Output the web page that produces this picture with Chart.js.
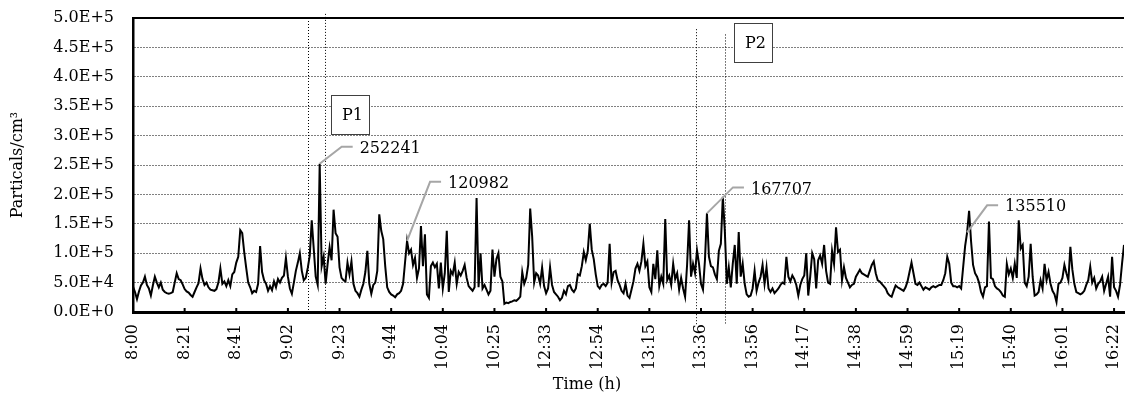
<!DOCTYPE html>
<html>
<head>
<meta charset="utf-8">
<script src="https://cdn.jsdelivr.net/npm/chart.js@4.4.1/dist/chart.umd.min.js"></script>
<style>
html,body{margin:0;padding:0;background:#fff}
#wrap{width:1126px;height:394px;position:relative}
</style>
</head>
<body>
<div id="wrap"><canvas id="ch"></canvas></div>
<script>
// time labels on the x axis, one every STEP samples
const tickLabels=['8:00','8:21','8:41','9:02','9:23','9:44','10:04','10:25','12:33','12:54',
  '13:15','13:36','13:56','14:17','14:38','14:59','15:19','15:40','16:01','16:22'];
const STEP=26;

// particle counts (particles/cm3)
const counts=[
  43000,34000,22000,35000,45000,50000,60000,46000,40000,28000,
  45000,60000,50000,42000,50000,38000,34000,32000,31000,32000,
  34000,50000,66000,56000,54000,47000,39000,35000,33000,29000,
  26000,34000,42000,49000,74000,56000,46000,50000,42000,38000,
  37000,36000,39000,50000,74000,48000,52000,44000,54000,44000,
  64000,68000,84000,94000,139000,134000,102000,75000,50000,42000,
  32000,36000,34000,48000,112000,68000,54000,48000,36000,44000,
  37000,52000,42000,56000,50000,58000,62000,92000,60000,40000,
  31000,50000,70000,84000,100000,70000,54000,58000,75000,96000,
  156000,108000,60000,46000,252241,78000,94000,48000,82000,110000,
  88000,174000,134000,128000,76000,58000,54000,52000,84000,64000,
  86000,48000,36000,32000,26000,38000,48000,68000,104000,48000,
  31000,46000,50000,70000,166000,138000,124000,78000,42000,34000,
  30000,28000,25000,30000,32000,36000,48000,85000,120982,100000,
  106000,80000,92000,58000,74000,146000,78000,132000,30000,24000,
  78000,84000,76000,82000,40000,84000,40000,66000,138000,34000,
  70000,64000,84000,48000,68000,62000,70000,80000,58000,44000,
  40000,36000,42000,194000,42000,100000,40000,46000,38000,30000,
  36000,106000,60000,90000,100000,60000,52000,14000,16000,15000,
  17000,18000,20000,19000,22000,26000,68000,48000,58000,80000,
  176000,128000,50000,66000,62000,48000,76000,44000,32000,40000,
  76000,46000,34000,30000,26000,20000,24000,36000,30000,44000,
  46000,38000,34000,40000,64000,62000,78000,102000,88000,104000,
  150000,106000,90000,64000,44000,40000,46000,48000,44000,50000,
  116000,50000,68000,70000,54000,46000,36000,32000,48000,28000,
  24000,38000,52000,74000,82000,70000,86000,116000,78000,86000,
  42000,34000,82000,56000,105000,44000,60000,48000,158000,54000,
  62000,46000,82000,56000,66000,38000,58000,40000,26000,80000,
  156000,60000,82000,66000,105000,82000,48000,38000,88000,167707,
  94000,78000,76000,64000,56000,104000,116000,196000,138000,48000,
  76000,42000,82000,114000,48000,136000,60000,82000,48000,30000,
  26000,28000,40000,70000,36000,50000,60000,80000,48000,76000,
  40000,34000,40000,32000,36000,40000,46000,50000,48000,94000,
  60000,52000,62000,56000,46000,28000,46000,56000,62000,100000,
  28000,60000,100000,90000,40000,88000,96000,82000,114000,70000,
  50000,48000,104000,82000,144000,102000,106000,54000,76000,58000,
  50000,42000,46000,48000,60000,66000,72000,66000,64000,62000,
  60000,70000,80000,86000,66000,54000,52000,48000,44000,40000,
  32000,28000,26000,36000,45000,42000,40000,38000,36000,42000,
  52000,68000,84000,66000,48000,46000,50000,44000,38000,42000,
  40000,38000,42000,44000,42000,44000,46000,46000,54000,66000,
  94000,82000,50000,44000,44000,42000,44000,40000,76000,112000,
  135510,172000,120000,80000,66000,60000,50000,34000,26000,42000,
  44000,154000,58000,56000,44000,40000,38000,34000,28000,26000,
  82000,64000,74000,58000,82000,58000,156000,108000,114000,50000,
  44000,60000,116000,60000,28000,30000,34000,54000,40000,82000,
  54000,68000,48000,36000,30000,17000,48000,50000,58000,80000,
  66000,54000,111000,72000,48000,34000,32000,30000,32000,36000,
  46000,54000,77000,50000,58000,40000,48000,52000,60000,36000,
  48000,60000,26000,94000,42000,36000,26000,46000,82000,114000
];

// labelled peaks: sample index, leader elbow offset (px)
const callouts=[{i:94,dx:22,dy:-17},{i:138,dx:23,dy:-59},{i:289,dx:26,dy:-26},{i:420,dx:20,dy:-27}];
// dotted period markers: sample position, top value, px below the axis
const markers=[{i:88,top:500000,below:0},{i:96.7,top:507000,below:0},{i:283.5,top:481000,below:13},{i:298.1,top:472000,below:13}];
const boxes=[{text:'P1',i:99.7,top:369000},{text:'P2',i:302.6,top:491000}];

const FONT='DejaVu Serif';
Chart.defaults.font.family=FONT;
Chart.defaults.color='#000';

const deco={
  id:'deco',
  beforeDatasetsDraw(c){
    const {ctx,chartArea:a,scales:{x,y}}=c;
    ctx.save();
    ctx.strokeStyle='#000';ctx.lineWidth=1;ctx.setLineDash([1,2]);
    markers.forEach(m=>{
      const px=Math.round(x.getPixelForValue(m.i))+0.5;
      ctx.beginPath();ctx.moveTo(px,y.getPixelForValue(m.top));ctx.lineTo(px,a.bottom+m.below);ctx.stroke();
    });
    ctx.setLineDash([]);
    // top frame line
    ctx.lineWidth=2;
    ctx.beginPath();ctx.moveTo(a.left,a.top);ctx.lineTo(a.right,a.top);ctx.stroke();
    ctx.restore();
  },
  afterDatasetsDraw(c){
    const {ctx,chartArea:a,scales:{x,y}}=c;
    ctx.save();
    // inward ticks
    ctx.strokeStyle='#000';ctx.lineWidth=2;
    tickLabels.forEach((t,k)=>{
      const px=x.getPixelForValue(k*STEP);
      ctx.beginPath();ctx.moveTo(px,a.bottom);ctx.lineTo(px,a.bottom-4);ctx.stroke();
    });
    // callouts
    ctx.font='16px "'+FONT+'"';ctx.textBaseline='middle';ctx.textAlign='left';
    callouts.forEach(o=>{
      const px=x.getPixelForValue(o.i),py=y.getPixelForValue(counts[o.i]);
      const ex=px+o.dx,ey=py+o.dy;
      ctx.strokeStyle='#a6a6a6';ctx.lineWidth=2;
      ctx.beginPath();ctx.moveTo(px,py);ctx.lineTo(ex,ey);ctx.lineTo(ex+11,ey);ctx.stroke();
      ctx.fillStyle='#000';ctx.fillText(String(counts[o.i]),ex+18,ey+2);
    });
    // period boxes
    ctx.textAlign='center';
    boxes.forEach(b=>{
      const bx=Math.round(x.getPixelForValue(b.i))+0.5,by=Math.round(y.getPixelForValue(b.top))+0.5;
      ctx.fillStyle='#fff';ctx.fillRect(bx,by,38,39);
      ctx.strokeStyle='#404040';ctx.lineWidth=1;ctx.strokeRect(bx,by,38,39);
      ctx.fillStyle='#000';ctx.fillText(b.text,bx+21,by+20);
    });
    // x title
    ctx.fillText('Time (h)',587,385);
    ctx.restore();
  }
};

new Chart(document.getElementById('ch'),{
  type:'line',
  data:{datasets:[{
    data:counts.map((v,i)=>({x:i,y:v})),
    borderColor:'#000',borderWidth:2,pointRadius:0,tension:0,fill:false
  }]},
  options:{
    responsive:true,maintainAspectRatio:false,animation:false,
    layout:{padding:{top:18,right:2,left:0,bottom:0}},
    plugins:{legend:{display:false},tooltip:{enabled:false}},
    scales:{
      x:{type:'linear',min:0,max:499,
        ticks:{stepSize:STEP,includeBounds:false,autoSkip:false,maxRotation:90,minRotation:90,padding:12,
          font:{size:16},callback:v=>tickLabels[v/STEP]??''},
        grid:{display:false,drawTicks:false},
        border:{display:true,color:'#000',width:3},
        afterFit:s=>{s.height=82;s.paddingLeft=0;s.paddingRight=0;}
      },
      y:{min:0,max:500000,
        ticks:{stepSize:50000,padding:19,font:{size:16},callback:v=>v.toExponential(1).toUpperCase()},
        grid:{drawTicks:false,lineWidth:1,color:c=>(c.tick.value===0||c.tick.value===500000)?'rgba(0,0,0,0)':'#000'},
        border:{display:true,color:'#000',width:2.5,dash:[1,2]},
        title:{display:true,text:'Particals/cm³',font:{size:16},padding:{top:8,bottom:0}},
        afterFit:s=>{s.width=133;s.paddingTop=0;s.paddingBottom=0;}
      }
    }
  },
  plugins:[deco]
});
</script>
</body>
</html>
